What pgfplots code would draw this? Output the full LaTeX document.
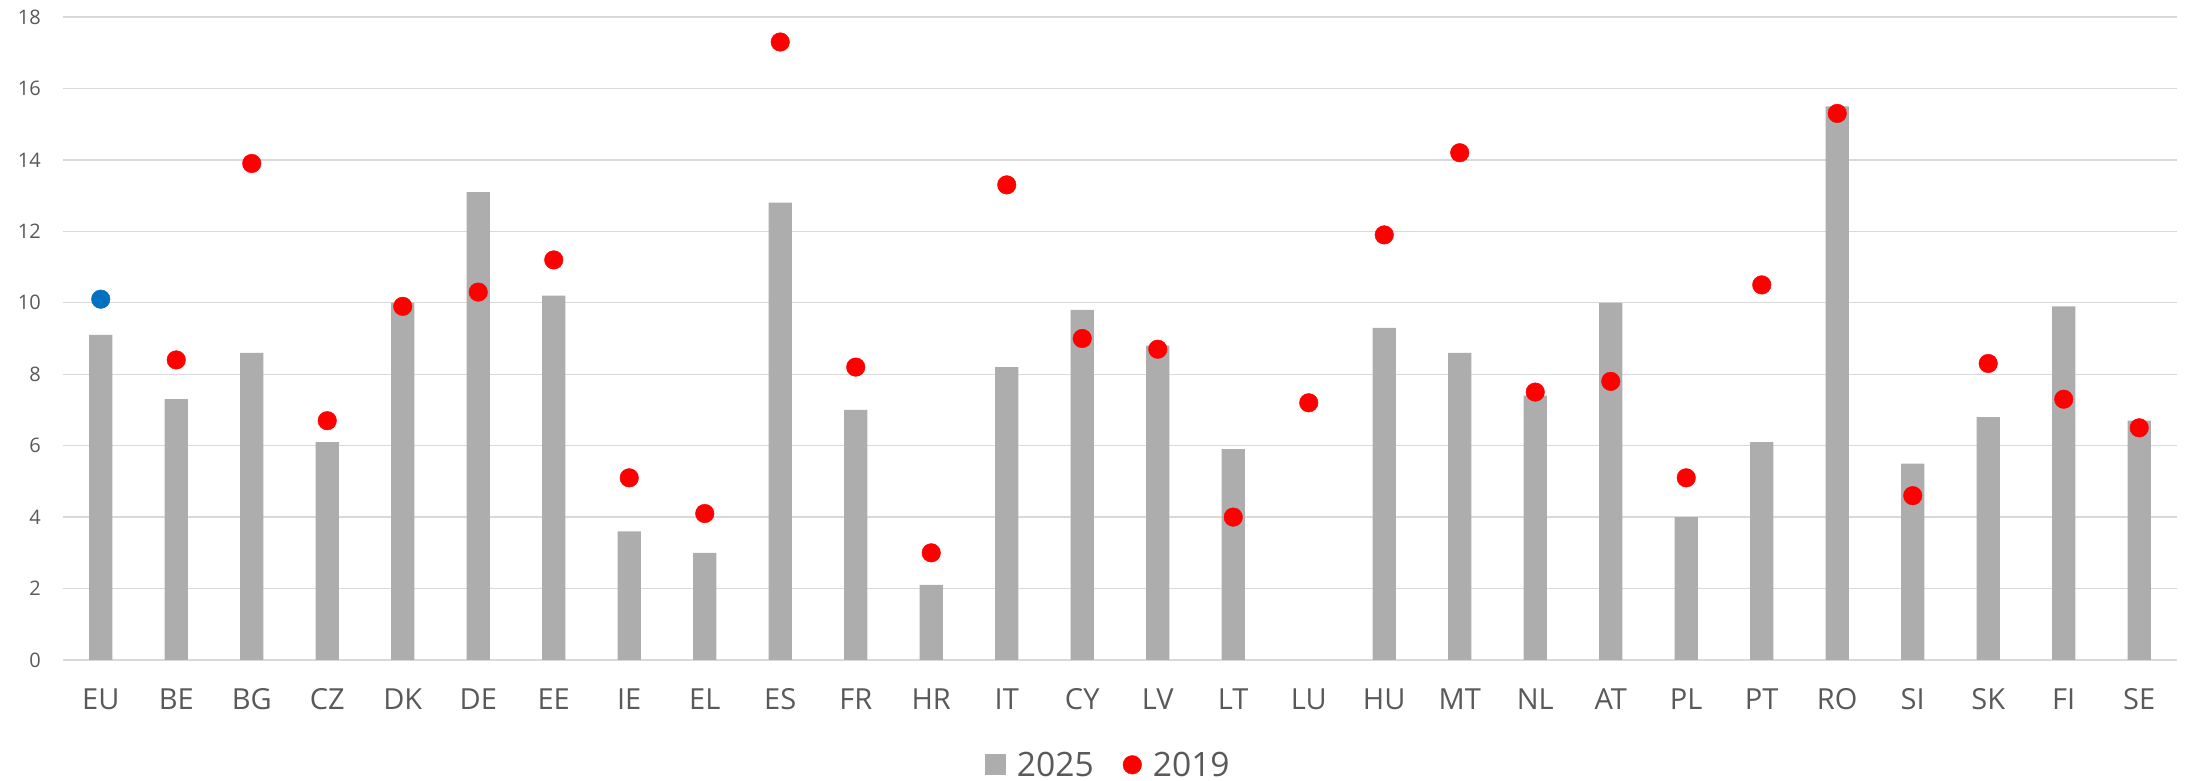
\documentclass[border=0pt]{standalone}
\usepackage{pgfplots}
\pgfplotsset{compat=1.18}
\usepackage{fontspec}
\setmainfont{Open Sans}
\definecolor{bargray}{HTML}{ADADAD}
\definecolor{gridgray}{HTML}{D9D9D9}
\definecolor{txtgray}{HTML}{595959}
\definecolor{dotred}{HTML}{FF0000}
\definecolor{eublue}{HTML}{0070C0}
\begin{document}
\begin{tikzpicture}
\useasboundingbox (0,0) rectangle (2190pt,781pt);
\begin{axis}[
  at={(63pt,121pt)}, anchor=south west,
  scale only axis, width=2114pt, height=643pt,
  xmin=-0.5, xmax=27.5, ymin=0, ymax=18,
  ytick={0,2,...,18},
  xtick={0,...,27},
  xticklabels={EU,BE,BG,CZ,DK,DE,EE,IE,EL,ES,FR,HR,IT,CY,LV,LT,LU,HU,MT,NL,AT,PL,PT,RO,SI,SK,FI,SE},
  /pgf/number format/assume math mode=true,
  axis line style={draw=none},
  major tick length=0pt,
  ymajorgrids, grid style={color=gridgray, line width=1.4pt},
  yticklabel style={font=\fontsize{20}{24}\selectfont, text=txtgray, anchor=east, inner sep=0pt, xshift=-22pt},
  xticklabel style={font=\fontsize{29}{34}\selectfont, text=txtgray, anchor=base, inner sep=0pt, yshift=-50pt},
  legend columns=2,
  legend style={at={(0.494,-0.163)}, anchor=center, draw=none, fill=none,
    font=\fontsize{33.6}{38}\selectfont, text=txtgray,
    nodes={inner sep=0pt},
    /tikz/every odd column/.append style={column sep=11pt},
    /tikz/every even column/.append style={column sep=29pt}},
  legend cell align=left,
]
\addplot[ybar, bar width=23.3pt, fill=bargray, draw=none,
  legend image code/.code={\fill[bargray] (0pt,-10.5pt) rectangle (21pt,10.5pt);}]
  coordinates {
  (0,9.1) (1,7.3) (2,8.6) (3,6.1) (4,10.0) (5,13.1) (6,10.2) (7,3.6) (8,3.0) (9,12.8)
  (10,7.0) (11,2.1) (12,8.2) (13,9.8) (14,8.8) (15,5.9) (17,9.3) (18,8.6) (19,7.4)
  (20,10.0) (21,4.0) (22,6.1) (23,15.5) (24,5.5) (25,6.8) (26,9.9) (27,6.7)};
\addlegendentry{2025}
\addplot[only marks, mark=*, mark size=9.3pt, color=dotred, mark options={draw=none, fill=dotred},
  legend image code/.code={\fill[dotred] (9.3pt,0pt) circle (9.3pt);}]
  coordinates {
  (1,8.4) (2,13.9) (3,6.7) (4,9.9) (5,10.3) (6,11.2) (7,5.1) (8,4.1) (9,17.3)
  (10,8.2) (11,3.0) (12,13.3) (13,9.0) (14,8.7) (15,4.0) (16,7.2) (17,11.9) (18,14.2) (19,7.5)
  (20,7.8) (21,5.1) (22,10.5) (23,15.3) (24,4.6) (25,8.3) (26,7.3) (27,6.5)};
\addlegendentry{2019}
\addplot[only marks, mark=*, mark size=9.3pt, color=eublue, mark options={draw=none, fill=eublue}, forget plot]
  coordinates {(0,10.1)};
\end{axis}
\end{tikzpicture}
\end{document}
